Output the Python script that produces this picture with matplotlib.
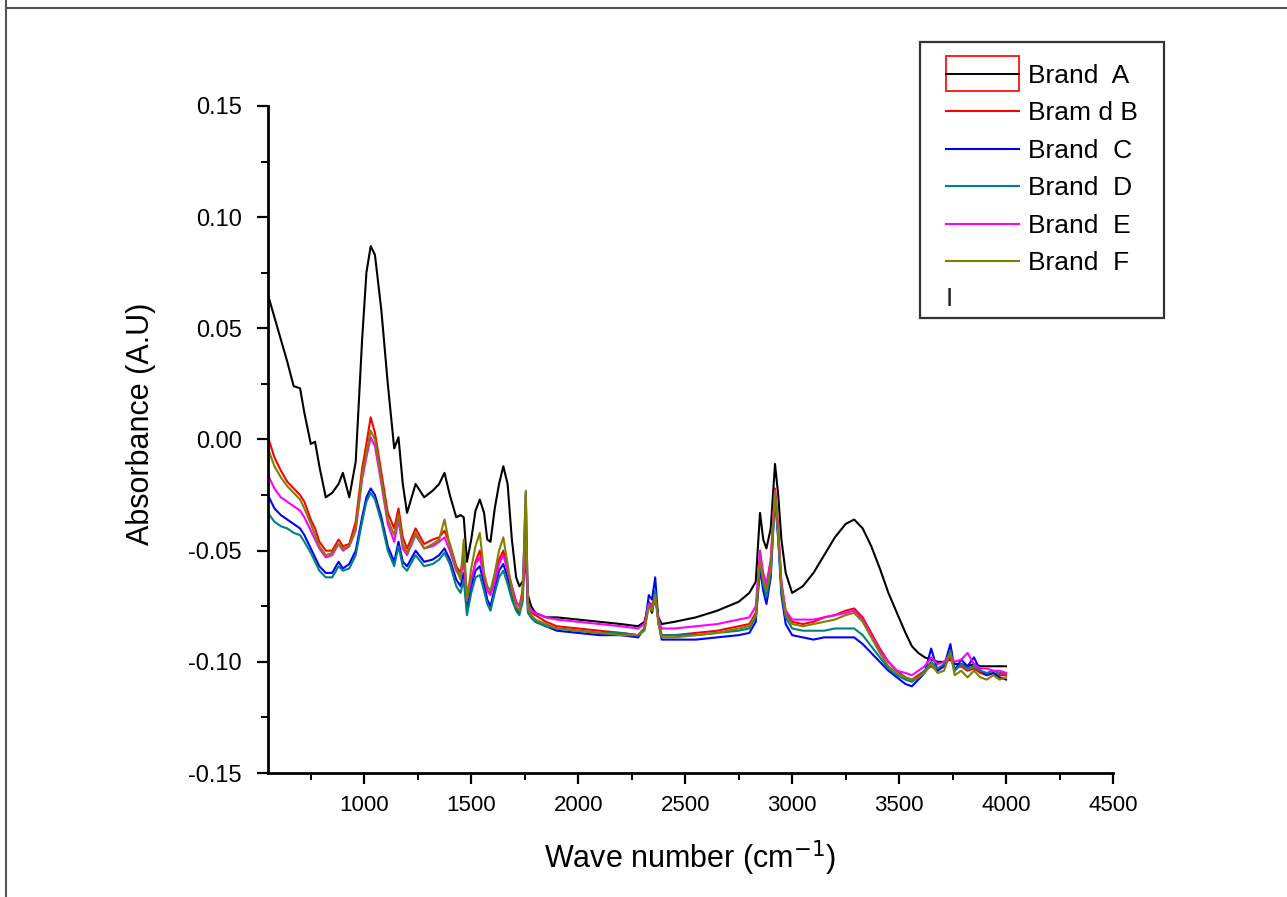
import matplotlib
matplotlib.use("Agg")
import matplotlib.pyplot as plt
from matplotlib.lines import Line2D
from matplotlib.patches import Rectangle
from matplotlib.text import Text
from matplotlib.ticker import MultipleLocator

plt.rcParams['font.family'] = ['Liberation Sans', 'DejaVu Sans']

# wave numbers (cm-1) shared by all spectra
wave_number = [
    550, 580, 610, 640, 670, 700, 720, 750, 770, 790,
    820, 850, 880, 900, 930, 960, 990, 1010, 1030, 1050,
    1080, 1110, 1140, 1160, 1180, 1200, 1240, 1280, 1320, 1350,
    1375, 1400, 1430, 1450, 1465, 1480, 1500, 1520, 1540, 1560,
    1575, 1590, 1610, 1630, 1650, 1670, 1690, 1710, 1725, 1740,
    1755, 1765, 1780, 1800, 1850, 1900, 2000, 2100, 2200, 2280,
    2310, 2330, 2345, 2360, 2375, 2390, 2450, 2550, 2650, 2750,
    2800, 2830, 2850, 2865, 2880, 2900, 2920, 2935, 2950, 2970,
    3000, 3050, 3100, 3150, 3200, 3250, 3290, 3330, 3370, 3410,
    3450, 3490, 3530, 3560, 3590, 3620, 3650, 3680, 3710, 3740,
    3760, 3790, 3820, 3850, 3880, 3910, 3940, 3970, 4000,
]

brand_a = [
    0.065, 0.055, 0.045, 0.035, 0.024, 0.023, 0.012, -0.002, -0.001, -0.012,
    -0.026, -0.024, -0.020, -0.015, -0.026, -0.010, 0.045, 0.075, 0.087, 0.083,
    0.058, 0.025, -0.004, 0.001, -0.020, -0.033, -0.020, -0.026, -0.023, -0.020,
    -0.015, -0.025, -0.035, -0.034, -0.035, -0.055, -0.045, -0.032, -0.027, -0.033,
    -0.045, -0.046, -0.031, -0.020, -0.012, -0.020, -0.045, -0.062, -0.066, -0.064,
    -0.055, -0.070, -0.075, -0.078, -0.080, -0.080, -0.081, -0.082, -0.083, -0.084,
    -0.082, -0.074, -0.078, -0.070, -0.080, -0.083, -0.082, -0.080, -0.077, -0.073,
    -0.069, -0.064, -0.033, -0.045, -0.049, -0.040, -0.011, -0.025, -0.045, -0.060,
    -0.069, -0.066, -0.060, -0.052, -0.044, -0.038, -0.036, -0.040, -0.048, -0.058,
    -0.069, -0.078, -0.087, -0.093, -0.096, -0.098, -0.099, -0.100, -0.100, -0.099,
    -0.101, -0.101, -0.102, -0.101, -0.102, -0.102, -0.102, -0.102, -0.102,
]

brand_b = [
    0.001, -0.008, -0.014, -0.019, -0.022, -0.025, -0.028, -0.036, -0.040, -0.046,
    -0.050, -0.050, -0.045, -0.048, -0.047, -0.037, -0.013, -0.002, 0.010, 0.003,
    -0.015, -0.033, -0.040, -0.031, -0.044, -0.049, -0.040, -0.047, -0.045, -0.044,
    -0.041, -0.047, -0.057, -0.060, -0.052, -0.070, -0.064, -0.055, -0.050, -0.062,
    -0.068, -0.069, -0.063, -0.054, -0.050, -0.058, -0.066, -0.073, -0.075, -0.068,
    -0.042, -0.074, -0.078, -0.079, -0.082, -0.084, -0.085, -0.086, -0.087, -0.088,
    -0.085, -0.073, -0.075, -0.068, -0.082, -0.088, -0.088, -0.087, -0.086, -0.084,
    -0.083, -0.078, -0.052, -0.062, -0.066, -0.055, -0.022, -0.040, -0.065, -0.078,
    -0.082, -0.083, -0.082, -0.080, -0.079, -0.077, -0.076, -0.080, -0.087, -0.094,
    -0.100, -0.104, -0.107, -0.108, -0.106, -0.104, -0.102, -0.104, -0.101, -0.098,
    -0.103, -0.102, -0.104, -0.103, -0.105, -0.106, -0.105, -0.106, -0.106,
]

brand_c = [
    -0.025, -0.031, -0.034, -0.036, -0.038, -0.040, -0.043, -0.049, -0.053, -0.057,
    -0.060, -0.060, -0.055, -0.058, -0.056, -0.050, -0.035, -0.026, -0.022, -0.025,
    -0.035, -0.048, -0.055, -0.046, -0.055, -0.057, -0.050, -0.055, -0.054, -0.052,
    -0.049, -0.054, -0.063, -0.066, -0.060, -0.077, -0.066, -0.059, -0.057, -0.065,
    -0.072, -0.075, -0.067, -0.059, -0.056, -0.062, -0.070, -0.076, -0.078, -0.072,
    -0.024, -0.077, -0.080, -0.082, -0.084, -0.086, -0.087, -0.088, -0.088, -0.089,
    -0.085, -0.070, -0.072, -0.062, -0.082, -0.090, -0.090, -0.090, -0.089, -0.088,
    -0.087, -0.082, -0.058, -0.068, -0.074, -0.062, -0.026, -0.045, -0.070, -0.083,
    -0.088, -0.089, -0.090, -0.089, -0.089, -0.089, -0.089, -0.092, -0.096, -0.100,
    -0.104, -0.107, -0.110, -0.111, -0.108, -0.105, -0.094, -0.104, -0.102, -0.092,
    -0.104, -0.099, -0.102, -0.098, -0.104, -0.106, -0.105, -0.107, -0.108,
]

brand_d = [
    -0.033, -0.037, -0.039, -0.040, -0.042, -0.043, -0.046, -0.051, -0.055, -0.059,
    -0.062, -0.062, -0.057, -0.059, -0.058, -0.052, -0.037, -0.028, -0.024, -0.027,
    -0.037, -0.050, -0.057, -0.048, -0.057, -0.059, -0.052, -0.057, -0.056, -0.054,
    -0.051, -0.056, -0.066, -0.069, -0.063, -0.079, -0.069, -0.062, -0.061, -0.068,
    -0.074, -0.077, -0.069, -0.062, -0.059, -0.065, -0.072, -0.077, -0.079, -0.073,
    -0.045, -0.078, -0.080, -0.082, -0.084, -0.085, -0.086, -0.087, -0.087, -0.088,
    -0.085, -0.074, -0.076, -0.068, -0.082, -0.088, -0.088, -0.088, -0.087, -0.086,
    -0.085, -0.080, -0.055, -0.065, -0.071, -0.060, -0.025, -0.043, -0.068, -0.080,
    -0.085, -0.086, -0.086, -0.086, -0.085, -0.085, -0.085, -0.088, -0.093, -0.098,
    -0.103, -0.106, -0.108, -0.109, -0.107, -0.104, -0.100, -0.103, -0.101, -0.095,
    -0.104, -0.101, -0.103, -0.102, -0.104, -0.105, -0.104, -0.105, -0.105,
]

brand_e = [
    -0.016, -0.022, -0.026, -0.028, -0.030, -0.032, -0.035, -0.041, -0.045, -0.049,
    -0.053, -0.052, -0.047, -0.050, -0.048, -0.041, -0.018, -0.008, 0.001, -0.003,
    -0.020, -0.038, -0.046, -0.036, -0.049, -0.052, -0.043, -0.049, -0.048, -0.046,
    -0.044, -0.050, -0.059, -0.062, -0.055, -0.072, -0.063, -0.056, -0.053, -0.062,
    -0.068, -0.070, -0.064, -0.056, -0.052, -0.059, -0.067, -0.073, -0.075, -0.070,
    -0.046, -0.074, -0.077, -0.078, -0.080, -0.081, -0.082, -0.083, -0.084, -0.085,
    -0.083, -0.074, -0.076, -0.071, -0.081, -0.085, -0.085, -0.084, -0.083, -0.081,
    -0.080, -0.075, -0.050, -0.060, -0.065, -0.054, -0.023, -0.040, -0.064, -0.077,
    -0.081, -0.081, -0.081, -0.080, -0.079, -0.078, -0.077, -0.081, -0.088, -0.095,
    -0.100, -0.104, -0.105, -0.106, -0.104, -0.102, -0.098, -0.101, -0.100, -0.097,
    -0.100, -0.099, -0.096, -0.101, -0.103, -0.103, -0.104, -0.104, -0.105,
]

brand_f = [
    -0.004, -0.012, -0.017, -0.021, -0.024, -0.027, -0.031, -0.038, -0.043, -0.048,
    -0.052, -0.051, -0.047, -0.049, -0.048, -0.040, -0.016, -0.006, 0.004, 0.000,
    -0.018, -0.036, -0.043, -0.034, -0.047, -0.051, -0.042, -0.049, -0.047, -0.045,
    -0.036, -0.048, -0.058, -0.063, -0.045, -0.072, -0.058, -0.048, -0.042, -0.060,
    -0.066, -0.068, -0.060, -0.050, -0.044, -0.056, -0.068, -0.075, -0.077, -0.070,
    -0.023, -0.076, -0.079, -0.081, -0.083, -0.085, -0.086, -0.087, -0.088, -0.088,
    -0.086, -0.075, -0.077, -0.070, -0.083, -0.089, -0.089, -0.088, -0.087, -0.085,
    -0.084, -0.079, -0.054, -0.063, -0.068, -0.058, -0.024, -0.042, -0.066, -0.079,
    -0.083, -0.084, -0.083, -0.082, -0.081, -0.079, -0.078, -0.082, -0.089, -0.096,
    -0.102, -0.105, -0.107, -0.108, -0.107, -0.105, -0.101, -0.105, -0.104, -0.096,
    -0.106, -0.104, -0.107, -0.104, -0.107, -0.108, -0.106, -0.108, -0.107,
]

labels = ['Brand  A', 'Bram d B', 'Brand  C', 'Brand  D', 'Brand  E', 'Brand  F']
colors = ['black', '#ff0000', '#0000ff', '#008080', '#ff00ff', '#808000']
series = [brand_a, brand_b, brand_c, brand_d, brand_e, brand_f]


# legend handle for Brand A: black line inside a red box
class BoxedLineHandler:
    def legend_artist(self, legend, orig_handle, fontsize, handlebox):
        x0, y0 = handlebox.xdescent, handlebox.ydescent
        w, h = handlebox.width, handlebox.height
        line = Line2D([x0, x0 + w], [y0 + h / 2, y0 + h / 2],
                      color=orig_handle.get_color(), lw=1.4)
        box = Rectangle((x0, y0 + h / 2 - 0.95 * h), w, 1.9 * h, fill=False,
                        edgecolor='#ff2020', lw=1.4)
        handlebox.add_artist(box)
        handlebox.add_artist(line)
        return line


# stray "I" left in the legend
class StrayTextHandler:
    def legend_artist(self, legend, orig_handle, fontsize, handlebox):
        x0, y0 = handlebox.xdescent, handlebox.ydescent
        t = Text(x0, y0 + handlebox.height / 2, 'I', fontsize=fontsize,
                 va='center', ha='left', color='#222222')
        handlebox.add_artist(t)
        return t


fig = plt.figure(figsize=(12.87, 8.97), dpi=100)
ax = fig.add_axes([268 / 1287, 1 - 773 / 897, (1113 - 268) / 1287, (773 - 106) / 897])

handles = []
for y, lab, c in zip(series, labels, colors):
    ln, = ax.plot(wave_number, y, color=c, lw=1.5, label=lab)
    handles.append(ln)

ax.set_xlim(550, 4500)
ax.set_ylim(-0.15, 0.15)
ax.xaxis.set_major_locator(MultipleLocator(500))
ax.xaxis.set_minor_locator(MultipleLocator(250))
ax.yaxis.set_major_locator(MultipleLocator(0.05))
ax.yaxis.set_minor_locator(MultipleLocator(0.025))
ax.yaxis.set_major_formatter(plt.FuncFormatter(lambda v, p: f'{v:.2f}'))

ax.spines['top'].set_visible(False)
ax.spines['right'].set_visible(False)
ax.spines['left'].set_linewidth(2)
ax.spines['bottom'].set_linewidth(2)
ax.tick_params(which='major', direction='out', length=8, width=1.6, color='black')
ax.tick_params(which='minor', direction='out', length=5, width=1.4, color='black')
ax.tick_params(axis='y', pad=11, labelsize=17)
ax.tick_params(axis='x', pad=8, labelsize=16)

ax.set_xlabel('Wave number (cm$^{-1}$)', fontsize=22, labelpad=16)
ax.set_ylabel('Absorbance (A.U)', fontsize=22)
ax.yaxis.set_label_coords(-0.133, 0.523)

stray = Line2D([], [], color='none')
leg = ax.legend(handles + [stray], labels + [''],
                handler_map={handles[0]: BoxedLineHandler(), stray: StrayTextHandler()},
                loc='upper left', bbox_to_anchor=(946 / 1287, 1 - 64 / 897),
                bbox_transform=fig.transFigure, borderaxespad=0, borderpad=0,
                fontsize=19, frameon=False,
                handlelength=2.75, handletextpad=0.34, labelspacing=0.51)

# legend frame drawn separately so the padding can be uneven as in the source
fig.add_artist(Rectangle((920 / 1287, 1 - 318 / 897), 244 / 1287, 276 / 897,
                         transform=fig.transFigure, fill=False,
                         edgecolor='#333333', lw=1.6))

# page border lines from the source document
fig.add_artist(Line2D([6 / 1287, 6 / 1287], [0, 1], color='#555555', lw=1.5))
fig.add_artist(Line2D([6 / 1287, 1], [1 - 8 / 897, 1 - 8 / 897], color='#555555', lw=1.5))

fig.savefig('out.png', dpi=100)
